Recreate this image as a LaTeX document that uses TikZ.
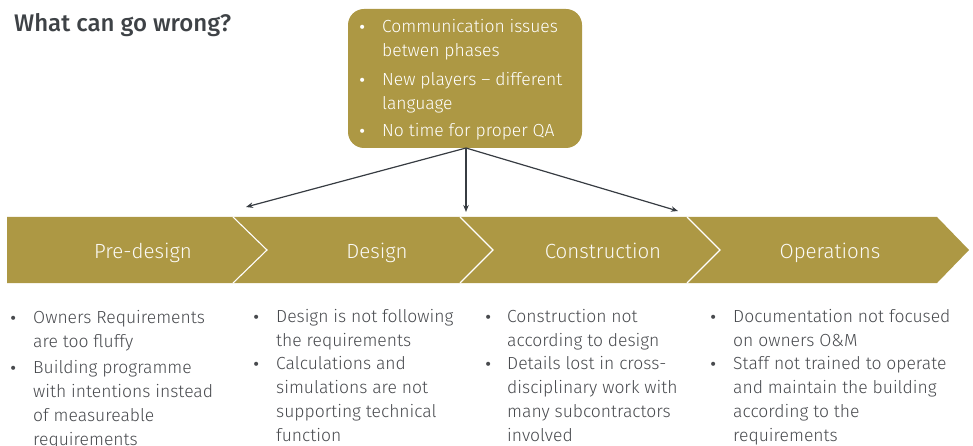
\documentclass[tikz,border=0pt]{standalone}
\usepackage{fontspec}
\setmainfont{Fira Sans}[UprightFont=* Light, BoldFont=* Medium]
\newfontfamily\bulletfont{DejaVu Sans}
\usetikzlibrary{arrows.meta}
\definecolor{gold}{RGB}{173,152,68}
\definecolor{txtgrey}{RGB}{72,74,78}
\definecolor{titlegrey}{RGB}{62,66,70}
\definecolor{arrowgrey}{RGB}{55,60,66}
\newcommand\mlines[1]{\vtop{\halign{##\hfil\cr#1\crcr}}}
\begin{document}
\begin{tikzpicture}[x=1pt,y=-1pt,
  bodytext/.style={anchor=base west, inner sep=0pt, text=txtgrey,
    font=\fontsize{17.5}{24}\selectfont},
  bodybullet/.style={anchor=base west, inner sep=0pt, text=txtgrey,
    font=\bulletfont\fontsize{14}{24}\selectfont},
  boxtext/.style={anchor=base west, inner sep=0pt, text=white,
    font=\fontsize{17.5}{23.5}\selectfont},
  boxbullet/.style={anchor=base west, inner sep=0pt, text=white,
    font=\bulletfont\fontsize{14}{24}\selectfont},
  phase/.style={anchor=base, inner sep=0pt, text=white!95!gold,
    font=\fontsize{20.5}{24}\selectfont},
  issuebox/.style={fill=gold, rounded corners=16pt, minimum width=234pt,
    minimum height=139pt, inner sep=0pt},
  sep/.style={draw=white, line width=1.1pt},
  conn/.style={draw=arrowgrey, line width=1.2pt, -{Stealth[length=7pt,width=5.5pt]}}
]
\useasboundingbox (0,0) rectangle (973,446);

% title
\node[anchor=base west, inner sep=0pt, text=titlegrey,
  font=\fontsize{24}{28}\selectfont\bfseries] (title) at (14,32) {What can go wrong?};

% issues box
\node[issuebox] (issues) at (465,78.5) {};
\node[boxbullet] (ib1) at (358,33) {•};
\node[boxtext] (it1) at (382,33) {\mlines{Communication issues\cr betwen phases}};
\node[boxbullet] (ib2) at (358,86) {•};
\node[boxtext] (it2) at (382,86) {\mlines{New players -- different\cr language}};
\node[boxbullet] (ib3) at (358,137) {•};
\node[boxtext] (it3) at (382,137) {No time for proper QA};

% phase band
\fill[gold] (7,217) -- (937,217) -- (969,250) -- (937,283) -- (7,283) -- cycle;
\draw[sep] (233,217) -- (267,250) -- (233,283);
\draw[sep] (460,217) -- (493,250) -- (460,283);
\draw[sep] (687,217) -- (720,250) -- (687,283);
\node[phase] (pre) at (143,258) {Pre-design};
\node[phase] (des) at (377,258) {Design};
\node[phase] (con) at (603,258) {Construction};
\node[phase] (ops) at (830,258) {Operations};

% connectors
\coordinate (tl) at (246,207);
\coordinate (tm) at (466,212);
\coordinate (tr) at (678,211);
\coordinate (src) at (466,148);
\draw[conn] (src) -- (tl);
\draw[conn] (src) -- (tm);
\draw[conn] (src) -- (tr);

% column 1
\node[bodybullet] (b11) at (9,323) {•};
\node[bodytext] (t11) at (33,323) {\mlines{Owners Requirements\cr are too fluffy}};
\node[bodybullet] (b12) at (9,373) {•};
\node[bodytext] (t12) at (33,373) {\mlines{Building programme\cr with intentions instead\cr of measureable\cr requirements}};
% column 2
\node[bodybullet] (b21) at (252,322) {•};
\node[bodytext] (t21) at (276,322) {\mlines{Design is not following\cr the requirements}};
\node[bodybullet] (b22) at (252,369) {•};
\node[bodytext] (t22) at (276,369) {\mlines{Calculations and\cr simulations are not\cr supporting technical\cr function}};
% column 3
\node[bodybullet] (b31) at (484,322) {•};
\node[bodytext] (t31) at (507,322) {\mlines{Construction not\cr according to design}};
\node[bodybullet] (b32) at (484,369) {•};
\node[bodytext] (t32) at (507,369) {\mlines{Details lost in cross-\cr disciplinary work with\cr many subcontractors\cr involved}};
% column 4
\node[bodybullet] (b41) at (709,322) {•};
\node[bodytext] (t41) at (733,322) {\mlines{Documentation not focused\cr on owners O\&M}};
\node[bodybullet] (b42) at (709,369) {•};
\node[bodytext] (t42) at (733,369) {\mlines{Staff not trained to operate\cr and maintain the building\cr according to the\cr requirements}};
\end{tikzpicture}
\end{document}
